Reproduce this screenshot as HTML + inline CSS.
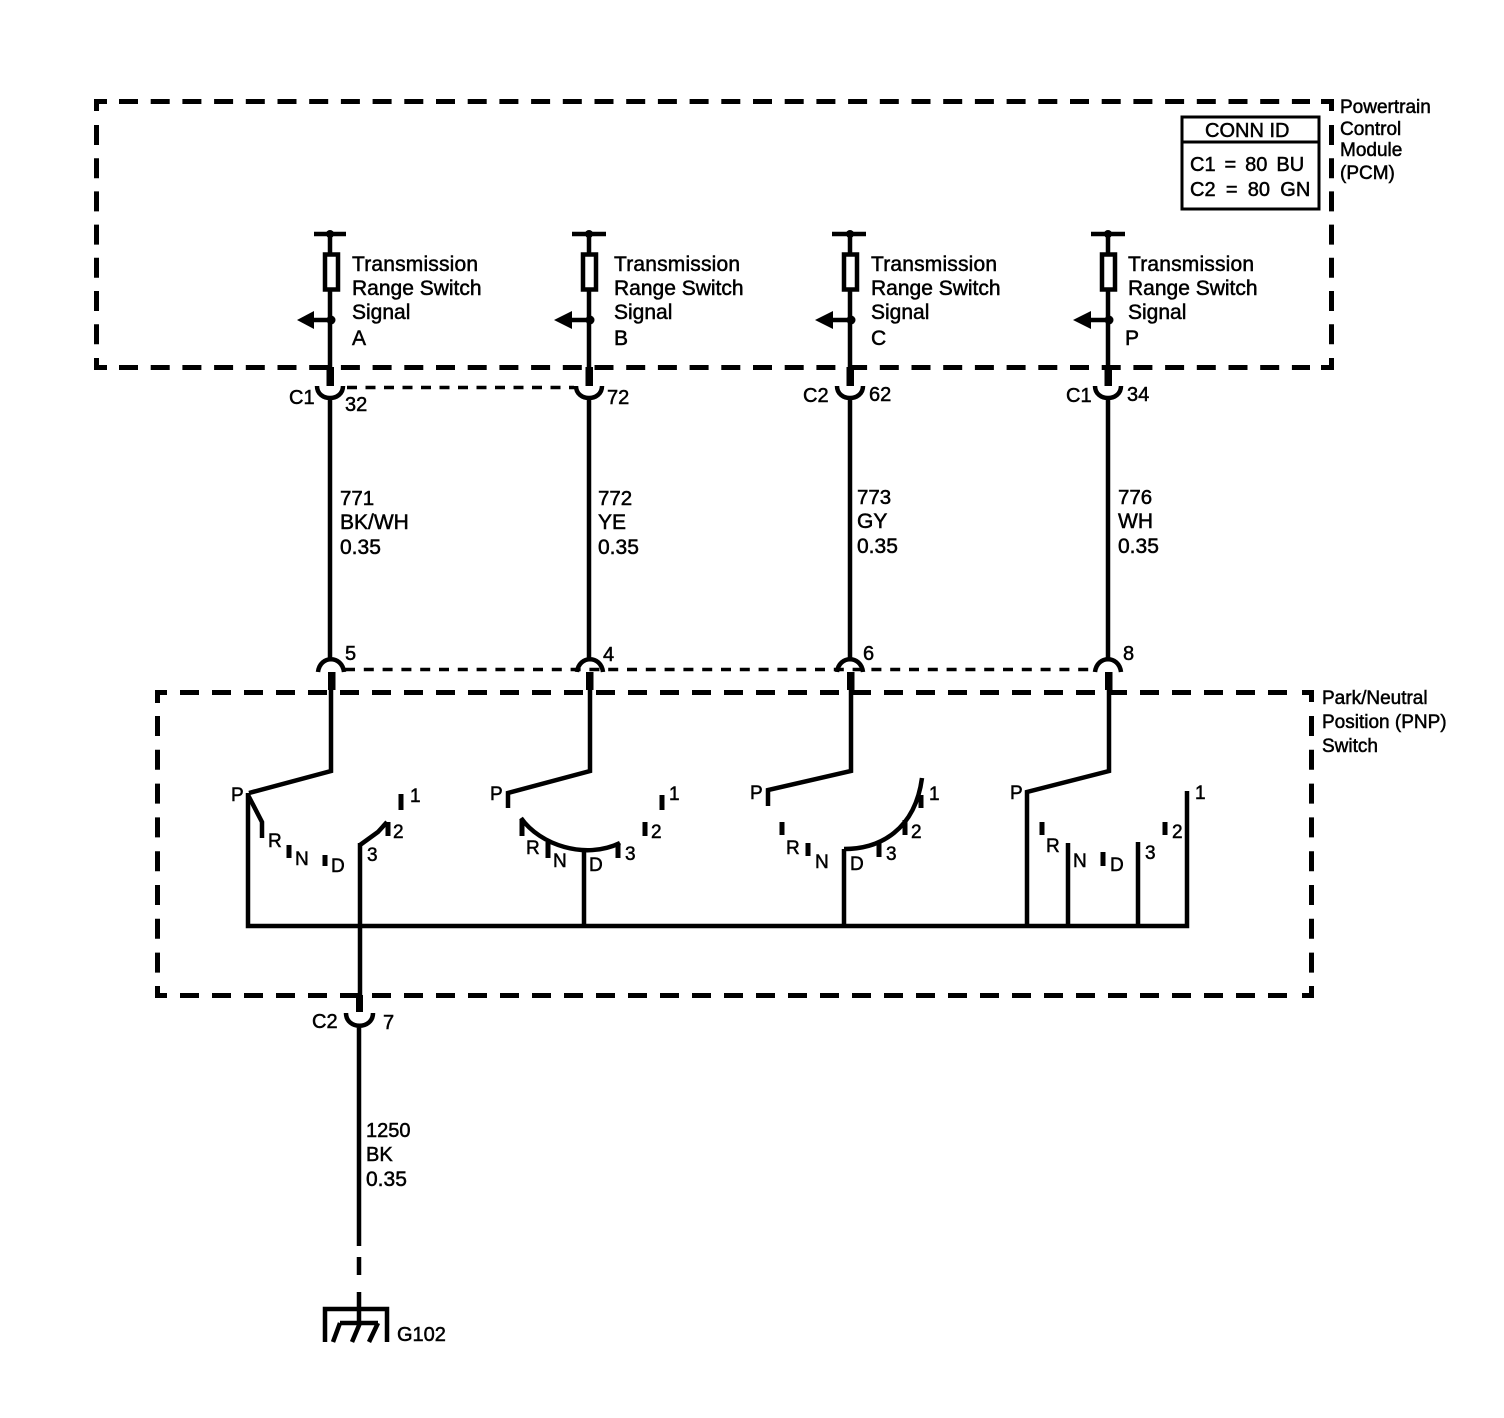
<!DOCTYPE html>
<html><head><meta charset="utf-8"><style>
html,body{margin:0;padding:0;background:#fff}
svg{display:block}
text{font-family:"Liberation Sans",sans-serif;font-size:20px;fill:#000;stroke:#000;stroke-width:.5}
.s{font-size:19px}
.l{font-size:21px}
.m{font-size:20.5px}
.w{fill:none;stroke:#000;stroke-width:4.5}
.t{fill:none;stroke:#000;stroke-width:5}
</style></head><body>
<svg width="1504" height="1418" viewBox="0 0 1504 1418" xmlns="http://www.w3.org/2000/svg">
<rect width="1504" height="1418" fill="#fff"/>
<g fill="none" stroke="#000" stroke-width="5">
<path d="M96.5 111V101.5H107M96.5 358V367.5H107M1321 101.5H1331.5V111M1321 367.5H1331.5V358"/>
<path d="M119 101.5H1310" stroke-dasharray="19 12.7"/>
<path d="M119 367.5H1310" stroke-dasharray="19 12.7"/>
<path d="M96.5 125V350" stroke-dasharray="20 13.2"/>
<path d="M1331.5 125V350" stroke-dasharray="20 13.2"/>
<path d="M157.5 703V692.5H167M157.5 986V995.5H167M1302 692.5H1311.5V702M1302 995.5H1311.5V986"/>
<path d="M180 692.5H1290" stroke-dasharray="19 13"/>
<path d="M180 995.5H1290" stroke-dasharray="19 13"/>
<path d="M157.5 716V975" stroke-dasharray="20 13.8"/>
<path d="M1311.5 716V975" stroke-dasharray="20 13.8"/>
</g>
<rect x="1182" y="117" width="137" height="92" fill="#fff" stroke="#000" stroke-width="3"/>
<path d="M1182 142H1319" stroke="#000" stroke-width="3"/>
<text x="1205" y="137">CONN ID</text>
<text x="1190" y="171" word-spacing="3.4">C1 = 80 BU</text>
<text x="1190" y="196" word-spacing="4.7">C2 = 80 GN</text>
<text class="s" x="1340" y="113">Powertrain</text><text class="s" x="1340" y="135">Control</text><text class="s" x="1340" y="156">Module</text><text class="s" x="1340" y="179">(PCM)</text>
<text class="s" x="1322" y="704">Park/Neutral</text><text class="s" x="1322" y="728">Position (PNP)</text><text class="s" x="1322" y="752">Switch</text>

<!-- PCM columns -->
<path class="w" d="M314 234H346M330 234V254M330 291V385M330 320H312"/>
<rect x="325" y="254.500" width="13" height="35" fill="#fff" stroke="#000" stroke-width="4.500"/>
<circle cx="330" cy="234" r="4"/><circle cx="331" cy="320" r="4.500"/>
<path d="M297 320L314 311V329Z"/>
<rect x="326.500" y="367" width="7.500" height="19"/>
<path class="w" d="M317 386C317 402 343 402 343 386M330 397V660"/>

<path class="w" d="M572 234H606M589 234V254M589 291V385M589 320H571"/>
<rect x="583" y="254.500" width="13" height="35" fill="#fff" stroke="#000" stroke-width="4.500"/>
<circle cx="589" cy="234" r="4"/><circle cx="590" cy="320" r="4.500"/>
<path d="M554 320L572 311V329Z"/>
<rect x="585.500" y="367" width="7.500" height="19"/>
<path class="w" d="M576 386C576 402 602 402 602 386M589 397V660"/>

<path class="w" d="M832 234H866M850 234V254M850 291V385M850 320H832"/>
<rect x="844" y="254.500" width="13" height="35" fill="#fff" stroke="#000" stroke-width="4.500"/>
<circle cx="850" cy="234" r="4"/><circle cx="851" cy="320" r="4.500"/>
<path d="M815 320L833 311V329Z"/>
<rect x="846.500" y="367" width="7.500" height="19"/>
<path class="w" d="M837 386C837 402 863 402 863 386M850 397V660"/>

<path class="w" d="M1091 234H1125M1108 234V254M1108 291V385M1108 320H1090"/>
<rect x="1102" y="254.500" width="13" height="35" fill="#fff" stroke="#000" stroke-width="4.500"/>
<circle cx="1108" cy="234" r="4"/><circle cx="1109" cy="320" r="4.500"/>
<path d="M1073 320L1091 311V329Z"/>
<rect x="1104.500" y="367" width="7.500" height="19"/>
<path class="w" d="M1095 386C1095 402 1121 402 1121 386M1108 397V660"/>
<!-- dashed connector links -->
<path d="M347 387.500H574" fill="none" stroke="#000" stroke-width="3.500" stroke-dasharray="10 8.500"/>
<path d="M345 669.500H1095" fill="none" stroke="#000" stroke-width="3.500" stroke-dasharray="10 8.800"/>
<!-- lower connectors -->
<path class="w" d="M318 672C320 655 342 655 344 672M577 672C579 655 601 655 603 672M837 672C839 655 861 655 863 672M1095 672C1097 655 1119 655 1121 672"/>
<rect x="328" y="672" width="7.500" height="18"/><rect x="586" y="672" width="7.500" height="18"/><rect x="847" y="672" width="7.500" height="18"/><rect x="1105" y="672" width="7.500" height="18"/>
<path class="w" d="M331 690V771L249 793M590 690V771L508 793V808M851 690V771L768 790V806M1109 690V771L1027 792V926"/>
<!-- bus -->
<path class="w" d="M248 793V926H1187V791M584 850V926M844 926V849M1068 843V926M1138 842V926"/>
<!-- column 1 contacts -->
<path class="w" d="M248 795L262 822V838M360 843V995M360 845L378 832L387 822"/>
<path class="t" d="M289 845V858M325 855V866M388 822V836M401 794V810"/>
<!-- column 2 contacts -->
<path class="w" d="M521 818C540 845 585 860 620 843"/>
<path class="t" d="M522 820V836M548 842V858M618 843V858M645 822V836M662 795V810"/>
<!-- column 3 contacts -->
<path class="w" d="M844 849C880 849 915 830 922 778"/>
<path class="t" d="M879 842V857M905 820V835M921 795V808M782 822V835M808 843V856"/>
<!-- column 4 contacts -->
<path class="t" d="M1042 822V835M1103 852V866M1165 822V835"/>
<!-- ground branch -->
<rect x="356" y="995" width="7" height="17"/>
<path class="w" d="M346 1013C346 1030 373 1030 373 1013M359 1025V1246M359 1257V1275M359 1292V1323"/>
<path class="w" d="M325 1342V1309H387V1342M340 1323H378M340 1323L333 1342M360 1323L352 1342M378 1323L369 1342"/>
<!-- labels -->
<text class="l" x="352" y="271" textLength="126">Transmission</text><text class="l" x="352" y="295">Range Switch</text><text class="l" x="352" y="319">Signal</text><text class="l" x="352" y="345">A</text>
<text class="l" x="614" y="271" textLength="126">Transmission</text><text class="l" x="614" y="295">Range Switch</text><text class="l" x="614" y="319">Signal</text><text class="l" x="614" y="345">B</text>
<text class="l" x="871" y="271" textLength="126">Transmission</text><text class="l" x="871" y="295">Range Switch</text><text class="l" x="871" y="319">Signal</text><text class="l" x="871" y="345">C</text>
<text class="l" x="1128" y="271" textLength="126">Transmission</text><text class="l" x="1128" y="295">Range Switch</text><text class="l" x="1128" y="319">Signal</text><text class="l" x="1125" y="345">P</text>
<text x="289" y="404">C1</text><text x="345" y="411">32</text><text x="607" y="404">72</text><text x="803" y="402">C2</text><text x="869" y="401">62</text><text x="1066" y="402">C1</text><text x="1127" y="401">34</text>
<text class="m" x="340" y="505">771</text><text class="l" x="340" y="529">BK/WH</text><text class="l" x="340" y="554">0.35</text>
<text class="m" x="598" y="505">772</text><text class="l" x="598" y="529">YE</text><text class="l" x="598" y="554">0.35</text>
<text class="m" x="857" y="504">773</text><text class="l" x="857" y="528">GY</text><text class="l" x="857" y="553">0.35</text>
<text class="m" x="1118" y="504">776</text><text class="l" x="1118" y="528">WH</text><text class="l" x="1118" y="553">0.35</text>
<text x="345" y="660">5</text><text x="603" y="661">4</text><text x="863" y="660">6</text><text x="1123" y="660">8</text>
<text x="312" y="1028">C2</text><text x="383" y="1029">7</text>
<text x="366" y="1137">1250</text><text x="366" y="1161">BK</text><text class="l" x="366" y="1186">0.35</text>
<text x="397" y="1341">G102</text>
<text class="s" x="231" y="801">P</text><text class="s" x="268" y="847">R</text><text class="s" x="295" y="865">N</text><text class="s" x="331" y="872">D</text><text class="s" x="367" y="861">3</text><text class="s" x="393" y="838">2</text><text class="s" x="410" y="802">1</text>
<text class="s" x="490" y="800">P</text><text class="s" x="526" y="854">R</text><text class="s" x="553" y="867">N</text><text class="s" x="589" y="871">D</text><text class="s" x="625" y="860">3</text><text class="s" x="651" y="838">2</text><text class="s" x="669" y="800">1</text>
<text class="s" x="750" y="799">P</text><text class="s" x="786" y="854">R</text><text class="s" x="815" y="868">N</text><text class="s" x="850" y="870">D</text><text class="s" x="886" y="860">3</text><text class="s" x="911" y="838">2</text><text class="s" x="929" y="800">1</text>
<text class="s" x="1010" y="799">P</text><text class="s" x="1046" y="852">R</text><text class="s" x="1073" y="867">N</text><text class="s" x="1110" y="871">D</text><text class="s" x="1145" y="859">3</text><text class="s" x="1172" y="838">2</text><text class="s" x="1195" y="799">1</text>
</svg>
</body></html>
